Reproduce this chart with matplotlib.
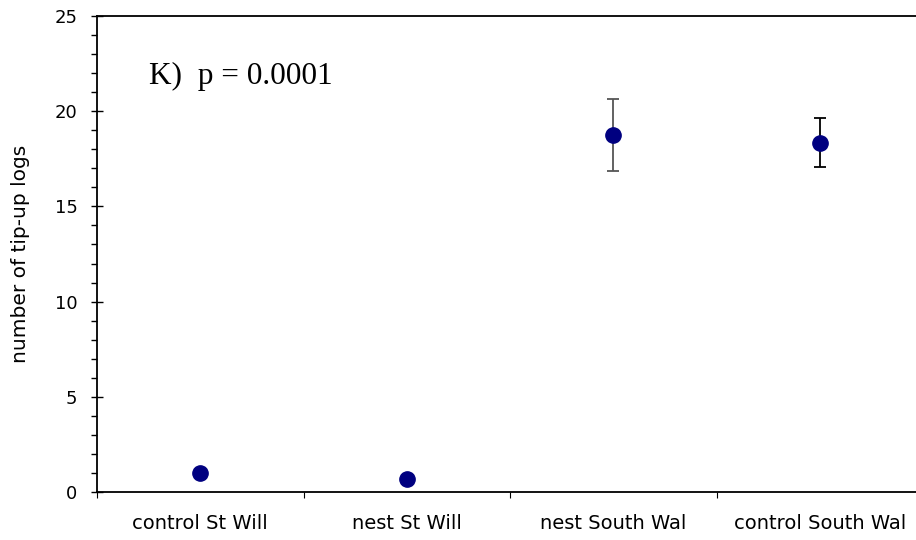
import matplotlib.pyplot as plt
import numpy as np
from matplotlib.ticker import MultipleLocator

categories = ['control St Will', 'nest St Will', 'nest South Wal', 'control South Wal']
means = [1.0, 0.68, 18.75, 18.35]
errors = [0.0, 0.0, 1.9, 1.3]
err_colors = ['black', 'black', '#555555', 'black']

fig = plt.figure(figsize=(9.16, 5.4), dpi=100)
# axes right edge runs slightly past the image, like the original
ax = fig.add_axes([97 / 916, 48 / 540, 826 / 916, 476 / 540])

x = np.arange(len(categories)) + 0.5
for xi, m, e, c in zip(x, means, errors, err_colors):
    if e > 0:
        ax.errorbar(xi, m, yerr=e, fmt='none', ecolor=c, elinewidth=1.3,
                    capsize=4, capthick=1.3, zorder=2)
ax.plot(x, means, 'o', color='#000080', markersize=11, zorder=3)

ax.set_xlim(0, len(categories))
ax.set_ylim(0, 25)
ax.set_xticks(np.arange(len(categories) + 1))
ax.set_xticklabels([])
ax.tick_params(axis='x', which='major', length=4, direction='out', width=0.8)
for xi, lab in zip(x, categories):
    ax.text(xi, -1.65, lab, ha='center', va='center', fontsize=14,
            family='DejaVu Sans')

ax.yaxis.set_major_locator(MultipleLocator(5))
ax.yaxis.set_minor_locator(MultipleLocator(1))
ax.tick_params(axis='y', which='major', direction='inout', length=8, width=1,
               labelsize=13, pad=10)
ax.tick_params(axis='y', which='minor', direction='out', length=4, width=1)
for t in ax.get_yticklabels():
    t.set_family('DejaVu Sans')

ax.set_ylabel('number of tip-up logs', fontsize=14.5, family='DejaVu Sans', labelpad=18)

ax.spines['right'].set_visible(False)
for s in ['left', 'bottom', 'top']:
    ax.spines[s].set_linewidth(1.3)

ax.text(0.25, 21.8, 'K)  p = 0.0001', fontsize=22.5, family='Liberation Serif',
        va='center', ha='left')

fig.savefig('out.png', dpi=100)
